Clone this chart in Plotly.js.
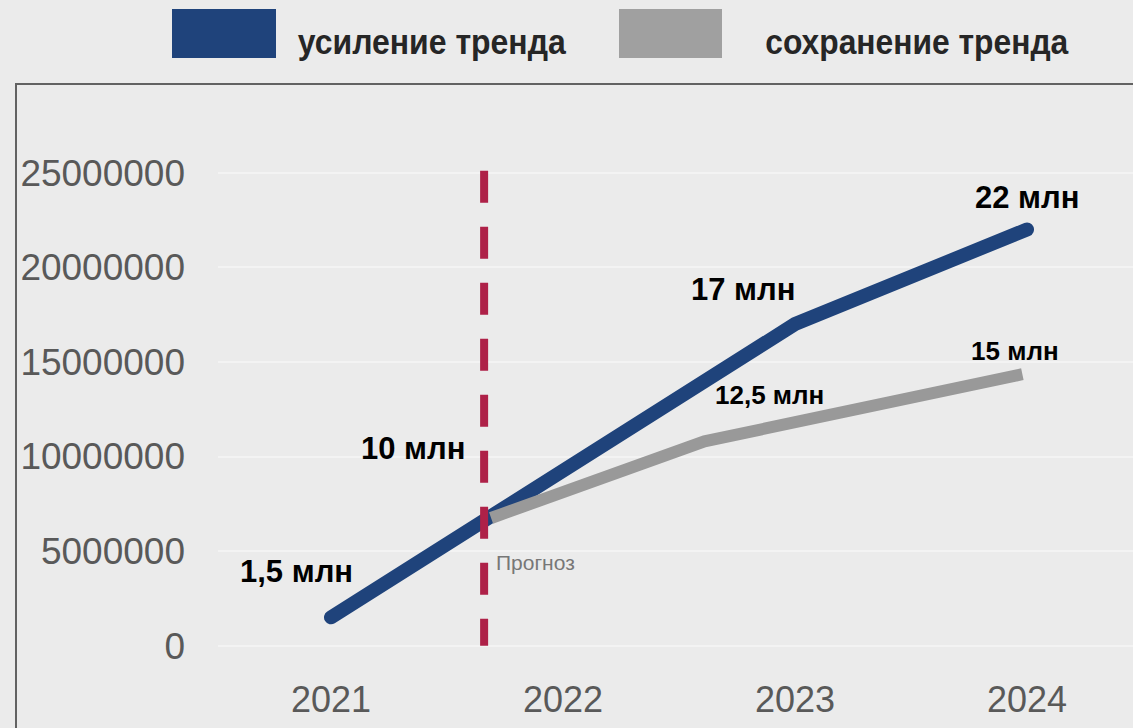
<!DOCTYPE html>
<html>
<head>
<meta charset="utf-8">
<script src="https://cdn.plot.ly/plotly-3.0.1.min.js"></script>
<style>
  html, body { margin: 0; padding: 0; background: #ebebeb; }
  #chart { width: 1133px; height: 728px; }
  .scatterlayer .trace:nth-child(1) .js-line { stroke-linecap: round; }
</style>
</head>
<body>
<div id="chart"></div>
<script>
// ---- data ----
const seriesNames = ['усиление тренда', 'сохранение тренда'];
const years = [2021, 2022, 2023, 2024];
const yearLabels = ['2021', '2022', '2023', '2024'];
const growthValues = [1500000, 9250000, 17000000, 22000000];
const keepX = [2021.69, 2022.61, 2023.98];
const keepValues = [6750000, 10800000, 14350000];
const forecastX = 2021.66;
const forecastSpan = [25100000, 0];
const forecastLabel = 'Прогноз';
const growthLabels = ['1,5 млн', '10 млн', '17 млн', '22 млн'];
const keepLabels = ['12,5 млн', '15 млн'];
const yTicks = [0, 5000000, 10000000, 15000000, 20000000, 25000000];

// ---- style ----
const W = 1133, H = 728;
const M = { l: 218, r: 0, t: 100, b: 73 };
const pw = W - M.l - M.r, ph = H - M.t - M.b;
const px = x => (x - M.l) / pw;
const py = y => (H - M.b - y) / ph;
const BLUE = '#1F437B', GRAY = '#999999', RED = '#AE2148';
const FONT = 'Liberation Sans, Arial, sans-serif';

const traces = [
  { x: years, y: growthValues, type: 'scatter', mode: 'lines',
    line: { color: BLUE, width: 14 }, hoverinfo: 'skip', showlegend: false },
  { x: keepX, y: keepValues, type: 'scatter', mode: 'lines',
    line: { color: GRAY, width: 12 }, hoverinfo: 'skip', showlegend: false },
  { x: [forecastX, forecastX], y: forecastSpan, type: 'scatter', mode: 'lines',
    line: { color: RED, width: 8, dash: '32px,24px' }, hoverinfo: 'skip', showlegend: false }
];

const big = { family: FONT, size: 31, color: '#000000', weight: 'bold' };
const mid = { family: FONT, size: 26, color: '#000000', weight: 'bold' };
const growthOffsets = [[-35, 46], [-150, 22], [-52, 35], [0, 32]];
const keepOffsets = [[65, 46], [-7, 23]];

const annotations = [];
growthLabels.forEach((t, i) => annotations.push({
  x: years[i], y: growthValues[i], xref: 'x', yref: 'y', text: t,
  showarrow: false, xanchor: 'center', yanchor: 'middle',
  xshift: growthOffsets[i][0], yshift: growthOffsets[i][1], font: big }));
keepLabels.forEach((t, i) => annotations.push({
  x: keepX[i + 1], y: keepValues[i + 1], xref: 'x', yref: 'y', text: t,
  showarrow: false, xanchor: 'center', yanchor: 'middle',
  xshift: keepOffsets[i][0], yshift: keepOffsets[i][1], font: mid }));
annotations.push({
  x: keepX[0], y: keepValues[0], xref: 'x', yref: 'y', text: forecastLabel,
  showarrow: false, xanchor: 'center', yanchor: 'middle', xshift: 44, yshift: -45,
  font: { family: FONT, size: 21, color: '#777777' } });

// legend
const legendColors = [BLUE, '#A0A0A0'];
const legendRectX = [[172, 276], [619, 722]];
const legendTextSpan = [[298, 566], [765, 1068]];
const shapes = [];
seriesNames.forEach((n, i) => {
  shapes.push({ type: 'rect', xref: 'paper', yref: 'paper',
    x0: px(legendRectX[i][0]), x1: px(legendRectX[i][1]), y0: py(58), y1: py(9),
    fillcolor: legendColors[i], line: { width: 0 } });
  annotations.push({ xref: 'paper', yref: 'paper',
    x: px((legendTextSpan[i][0] + legendTextSpan[i][1]) / 2), y: py(42),
    text: n, showarrow: false, xanchor: 'center', yanchor: 'middle',
    font: { family: FONT, size: 35, color: '#262626', weight: 'bold' } });
});
// frame
shapes.push({ type: 'line', xref: 'paper', yref: 'paper', x0: px(16), x1: px(16), y0: py(84), y1: py(740),
  line: { color: '#626262', width: 2 } });
shapes.push({ type: 'line', xref: 'paper', yref: 'paper', x0: px(15), x1: px(1140), y0: py(84), y1: py(84),
  line: { color: '#626262', width: 2 } });

const layout = {
  width: W, height: H, margin: M,
  paper_bgcolor: '#ebebeb', plot_bgcolor: '#ebebeb',
  showlegend: false,
  xaxis: {
    type: 'linear', range: [2021 + (M.l - 331) / 232, 2021 + (W - 331) / 232],
    tickvals: years, ticktext: yearLabels, showgrid: false, zeroline: false, showline: false,
    ticks: '', ticklabelstandoff: 20,
    tickfont: { family: FONT, size: 36, color: '#595959' }
  },
  yaxis: {
    range: [-(H - M.b - 645.7) / 18.92 * 1e6, (645.7 - M.t) / 18.92 * 1e6],
    tickvals: yTicks, ticktext: yTicks.map(v => String(v)),
    showgrid: true, gridcolor: '#f3f3f3', gridwidth: 2, zeroline: false, showline: false,
    ticks: '', ticklabelstandoff: 32,
    tickfont: { family: FONT, size: 37, color: '#595959' }
  },
  annotations: annotations,
  shapes: shapes
};

Plotly.newPlot('chart', traces, layout, { staticPlot: true, displayModeBar: false }).then(() => {
  // condensed legend text (reference uses a narrow bold face)
  document.querySelectorAll('#chart .annotation-text').forEach(el => {
    const i = seriesNames.indexOf(el.textContent);
    if (i >= 0) {
      el.setAttribute('textLength', legendTextSpan[i][1] - legendTextSpan[i][0]);
      el.setAttribute('lengthAdjust', 'spacingAndGlyphs');
    }
  });
});
</script>
</body>
</html>
